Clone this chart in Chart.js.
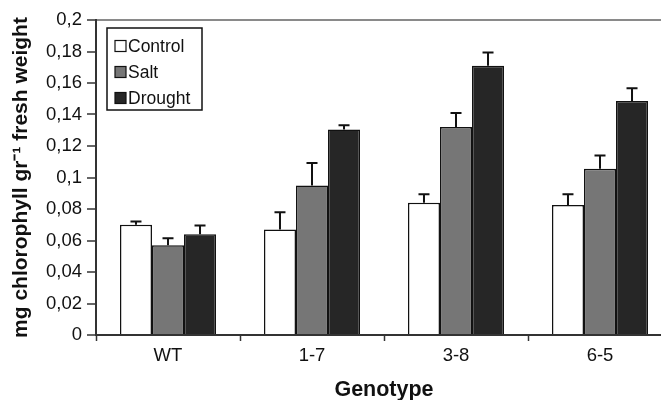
<!DOCTYPE html>
<html>
<head>
<meta charset="utf-8">
<script src="https://cdn.jsdelivr.net/npm/chart.js@4.4.0/dist/chart.umd.min.js"></script>
<style>
  html, body { margin: 0; padding: 0; background: #fff; overflow: hidden; }
  #wrap { width: 661px; height: 400px; overflow: hidden; }
</style>
</head>
<body>
<div id="wrap"><canvas id="chart" width="680" height="400"></canvas></div>
<script>
const genotypes = ['WT', '1-7', '3-8', '6-5'];
const treatments = ['Control', 'Salt', 'Drought'];

const controlMeans = [0.070, 0.067, 0.084, 0.0825];
const saltMeans = [0.057, 0.095, 0.132, 0.1055];
const droughtMeans = [0.064, 0.1305, 0.171, 0.1485];

// upward error bars (SE)
const controlErr = [0.002, 0.011, 0.0053, 0.0068];
const saltErr = [0.0045, 0.0142, 0.009, 0.0085];
const droughtErr = [0.0055, 0.0027, 0.0084, 0.0082];

const fillColors = ['#ffffff', '#767676', '#262626'];
const FONT = '"Liberation Sans", Arial, sans-serif';

// error bars drawn from the bar elements + y scale
const errorBars = {
  id: 'errorBars',
  afterDatasetsDraw(chart) {
    const ctx = chart.ctx;
    const y = chart.scales.y;
    ctx.save();
    ctx.strokeStyle = '#111';
    ctx.lineWidth = 2;
    chart.data.datasets.forEach((ds, i) => {
      const meta = chart.getDatasetMeta(i);
      meta.data.forEach((bar, j) => {
        const top = y.getPixelForValue(ds.data[j] + ds.errors[j]);
        ctx.beginPath();
        ctx.moveTo(bar.x, bar.y);
        ctx.lineTo(bar.x, top);
        ctx.moveTo(bar.x - 5.5, top);
        ctx.lineTo(bar.x + 5.5, top);
        ctx.stroke();
      });
    });
    ctx.restore();
  }
};

// boxed legend inside the plot, like the Excel original
const boxLegend = {
  id: 'boxLegend',
  afterDraw(chart) {
    const ctx = chart.ctx;
    const a = chart.chartArea;
    const x0 = a.left + 11, y0 = a.top + 8;
    ctx.save();
    ctx.fillStyle = '#fff';
    ctx.fillRect(x0, y0, 95, 82);
    ctx.strokeStyle = '#111';
    ctx.lineWidth = 1.5;
    ctx.strokeRect(x0, y0, 95, 82);
    ctx.font = '17.5px ' + FONT;
    ctx.textBaseline = 'middle';
    chart.data.datasets.forEach((ds, i) => {
      const cy = y0 + 18 + i * 26;
      ctx.fillStyle = ds.backgroundColor;
      ctx.fillRect(x0 + 8, cy - 5.5, 11, 11);
      ctx.lineWidth = 1.2;
      ctx.strokeRect(x0 + 8, cy - 5.5, 11, 11);
      ctx.fillStyle = '#111';
      ctx.fillText(ds.label, x0 + 21, cy + 1);
    });
    ctx.restore();
  }
};

const allMeans = [controlMeans, saltMeans, droughtMeans];
const allErrs = [controlErr, saltErr, droughtErr];

new Chart(document.getElementById('chart'), {
  type: 'bar',
  data: {
    labels: genotypes,
    datasets: treatments.map((t, i) => ({
      label: t,
      data: allMeans[i],
      errors: allErrs[i],
      backgroundColor: fillColors[i],
      borderColor: '#111',
      borderWidth: 1.5,
      barPercentage: 1,
      categoryPercentage: 0.667
    }))
  },
  options: {
    responsive: false,
    animation: false,
    layout: { padding: { left: 0, top: 20, right: 8, bottom: 0 } },
    plugins: { legend: { display: false }, tooltip: { enabled: false } },
    scales: {
      x: {
        afterFit(scale) { scale.height = 65; },
        grid: { drawOnChartArea: false, tickLength: 6, tickColor: '#333', tickWidth: 1.5 },
        border: { color: '#333', width: 2 },
        ticks: { color: '#111', padding: 4, font: { family: FONT, size: 18.5 } },
        title: {
          display: true, text: 'Genotype', color: '#111',
          font: { family: FONT, size: 21.5, weight: 'bold', lineHeight: 1 },
          padding: { top: 0, bottom: -1 }
        }
      },
      y: {
        min: 0, max: 0.2,
        afterFit(scale) { scale.width = 96; },
        grid: {
          color: c => (c.tick && c.tick.value > 0.199) ? '#8a8a8a' : 'rgba(0,0,0,0)',
          lineWidth: 2,
          tickColor: '#333', tickWidth: 1.5, tickLength: 9
        },
        border: { color: '#333', width: 2 },
        ticks: {
          stepSize: 0.02, color: '#111', padding: 5,
          font: { family: FONT, size: 18.5 },
          callback: v => String(parseFloat(v.toFixed(2))).replace('.', ',')
        },
        title: {
          display: true, text: 'mg chlorophyll gr\u207B\u00B9 fresh weight', color: '#111',
          font: { family: FONT, size: 21, weight: 'bold', lineHeight: 1.2 },
          padding: { top: 9, bottom: 0 }
        }
      }
    }
  },
  plugins: [errorBars, boxLegend]
});
</script>
</body>
</html>
